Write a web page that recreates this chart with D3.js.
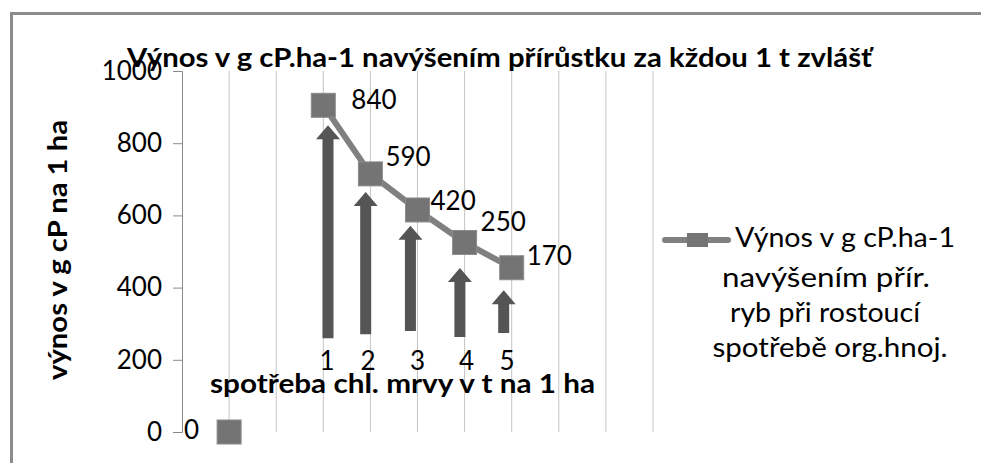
<!DOCTYPE html>
<html>
<head>
<meta charset="utf-8">
<script src="https://cdn.jsdelivr.net/npm/d3@7"></script>
<style>
  html, body { margin: 0; padding: 0; background: #fff; overflow: hidden; }
  #chart { width: 981px; height: 463px; }
  #chart svg { display: block; }
  text { font-family: Lato, "Open Sans", sans-serif; fill: #000; }
</style>
</head>
<body>
<div id="chart"></div>
<script>
// category slots along the x axis (gridline index)
const pointX = [1, 3, 4, 5, 6, 7];
const pointY = [0, 905, 715, 615, 525, 455];
const pointLabels = ["0", "840", "590", "420", "250", "170"];

// the block arrows under each point
const arrowX = [3.1, 3.9, 4.85, 5.9, 6.83];
const arrowFrom = [260, 271, 280, 263, 274];
const arrowTo = [850, 665, 571, 454, 393];

// hand-placed category numbers
const catLabels = ["1", "2", "3", "4", "5"];
const catX = [3.08, 3.95, 5.0, 6.04, 6.9];
const catY = 191;

const yTicks = [0, 200, 400, 600, 800, 1000];
const gridX = [1, 2, 3, 4, 5, 6, 7, 8, 9, 10];

const title = "Výnos v g cP.ha-1 navýšením přírůstku za kždou 1 t zvlášť";
const yTitle = "výnos v g cP na 1 ha";
const xTitle = "spotřeba chl. mrvy v t na 1 ha";
const legendLines = ["Výnos v g cP.ha-1", "navýšením přír.", "ryb při rostoucí", "spotřebě org.hnoj."];

function draw() {
  const W = 981, H = 463;
  const svg = d3.select("#chart").append("svg")
    .attr("width", W).attr("height", H);

  // outer frame (only top/left edges fall inside the picture)
  svg.append("path")
    .attr("d", `M11.5,${H + 5} L11.5,13.5 L${W + 5},13.5`)
    .attr("fill", "none").attr("stroke", "#8c8c8c").attr("stroke-width", 3);

  const x = d3.scaleLinear().domain([0, 10]).range([182, 653]);
  const y = d3.scaleLinear().domain([0, 1000]).range([432, 71]);

  // vertical gridlines
  svg.append("g").selectAll("line")
    .data(gridX)
    .join("line")
    .attr("x1", d => x(d)).attr("x2", d => x(d))
    .attr("y1", y(0)).attr("y2", y(1000))
    .attr("stroke", "#c4c4c4").attr("stroke-width", 1);

  // y axis
  const yAxis = svg.append("g")
    .attr("transform", `translate(${x(0)},0)`)
    .call(d3.axisLeft(y).tickValues(yTicks).tickFormat(d3.format("d")).tickSize(9).tickPadding(11));
  yAxis.select(".domain").attr("stroke", "#8a8a8a");
  yAxis.selectAll(".tick line").attr("stroke", "#8a8a8a");
  yAxis.selectAll(".tick text")
    .attr("font-family", "Lato, sans-serif")
    .attr("font-size", 26)
    .attr("fill", "#000");

  // arrows
  const shaftW = 11, headW = 24, headH = 14;
  svg.append("g").selectAll("path")
    .data(arrowX)
    .join("path")
    .attr("d", (d, i) => {
      const cx = x(d), y0 = y(arrowFrom[i]), y1 = y(arrowTo[i]);
      const hb = y1 + headH;
      return `M${cx - shaftW / 2},${y0} L${cx - shaftW / 2},${hb} L${cx - headW / 2},${hb} ` +
        `L${cx},${y1} L${cx + headW / 2},${hb} L${cx + shaftW / 2},${hb} L${cx + shaftW / 2},${y0} Z`;
    })
    .attr("fill", "#555555");

  // series line (the zero point stands alone)
  const line = d3.line().x(d => x(d[0])).y(d => y(d[1]));
  const linePts = pointX.map((d, i) => [d, pointY[i]]).slice(1);
  svg.append("path")
    .datum(linePts)
    .attr("d", line)
    .attr("fill", "none")
    .attr("stroke", "#808080")
    .attr("stroke-width", 6)
    .attr("stroke-linejoin", "round");

  const ms = 24;
  svg.append("g").selectAll("rect")
    .data(pointX)
    .join("rect")
    .attr("x", d => x(d) - ms / 2)
    .attr("y", (d, i) => y(pointY[i]) - ms / 2)
    .attr("width", ms).attr("height", ms)
    .attr("fill", "#747474")
    .attr("stroke", "#8c8c8c").attr("stroke-width", 1);

  // data labels
  const labelDx = [-30, 28, 15, 13, 16, 15];
  const labelDy = [0, -3, -14, -7, -18, -9];
  svg.append("g").selectAll("text")
    .data(pointLabels)
    .join("text")
    .attr("x", (d, i) => x(pointX[i]) + labelDx[i])
    .attr("y", (d, i) => y(pointY[i]) + labelDy[i])
    .attr("text-anchor", (d, i) => i === 0 ? "end" : "start")
    .attr("dominant-baseline", "middle")
    .attr("font-size", 26)
    .text(d => d);

  // category numbers
  svg.append("g").selectAll("text")
    .data(catLabels)
    .join("text")
    .attr("x", (d, i) => x(catX[i]))
    .attr("y", y(catY))
    .attr("text-anchor", "middle")
    .attr("dominant-baseline", "middle")
    .attr("font-size", 26)
    .text(d => d);

  // titles
  svg.append("text")
    .attr("x", 127).attr("y", 67)
    .attr("font-size", 27).attr("font-weight", "bold")
    .attr("textLength", 745).attr("lengthAdjust", "spacingAndGlyphs")
    .text(title);

  svg.append("text")
    .attr("transform", "translate(67,250) rotate(-90)")
    .attr("text-anchor", "middle")
    .attr("font-size", 26).attr("font-weight", "bold")
    .attr("textLength", 260).attr("lengthAdjust", "spacingAndGlyphs")
    .text(yTitle);

  svg.append("text")
    .attr("x", 210).attr("y", 393)
    .attr("font-size", 26).attr("font-weight", "bold")
    .attr("textLength", 385).attr("lengthAdjust", "spacingAndGlyphs")
    .text(xTitle);

  // legend
  const lg = svg.append("g");
  lg.append("line")
    .attr("x1", 665).attr("x2", 728).attr("y1", 240).attr("y2", 240)
    .attr("stroke", "#808080").attr("stroke-width", 6).attr("stroke-linecap", "round");
  lg.append("rect")
    .attr("x", 687).attr("y", 233).attr("width", 21).attr("height", 14)
    .attr("fill", "#747474");
  const legCx = [845, 826, 825, 830];
  const legY = [240, 280, 315, 350];
  const legLen = [220, 208, 190, 235];
  lg.selectAll("text.leg")
    .data(legendLines)
    .join("text")
    .attr("class", "leg")
    .attr("x", (d, i) => legCx[i])
    .attr("y", (d, i) => legY[i])
    .attr("text-anchor", "middle")
    .attr("dominant-baseline", "middle")
    .attr("font-size", 26)
    .attr("textLength", (d, i) => legLen[i]).attr("lengthAdjust", "spacingAndGlyphs")
    .text(d => d);
}

draw();
</script>
</body>
</html>
